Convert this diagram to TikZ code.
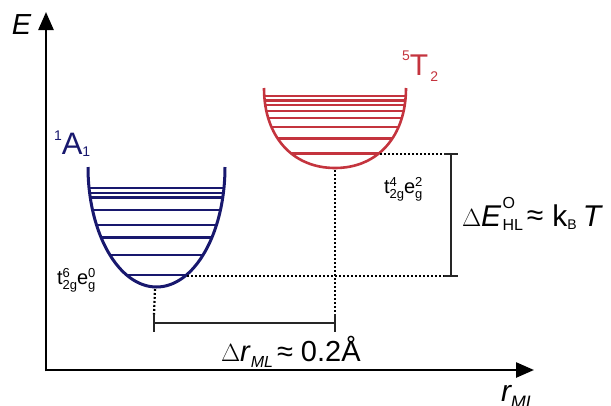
\documentclass[tikz,border=0pt]{standalone}
\usepackage{fontspec}
\setmainfont{Liberation Sans}
\usetikzlibrary{arrows.meta}
\definecolor{navy}{RGB}{24,24,110}
\definecolor{crim}{RGB}{196,52,62}
\newcommand\fs[1]{\fontsize{#1}{#1}\selectfont}
\newcommand\ssc[2]{\raisebox{#1}{\fs{14}#2}}
\newcommand\supsubx[4]{\makebox[0pt][l]{\raisebox{#1}{\fs{13}#3}}\raisebox{#2}{\fs{13}#4}}
\tikzset{
  axis/.style={line width=2.5pt,-{Triangle[length=18pt,width=15pt]}},
  dots/.style={line width=2.2pt,dash pattern=on 1.8pt off 2.2pt},
  bar/.style={line width=2.5pt,black!85},
  bluewell/.style={navy,line width=3pt},
  bluelev/.style={navy,line width=2.7pt},
  redwell/.style={crim,line width=2.6pt},
  redlev/.style={crim,line width=2.2pt},
  lab/.style={inner sep=0pt,outer sep=0pt,anchor=base west}
}
\begin{document}
\begin{tikzpicture}[x=1pt,y=-1pt]
\useasboundingbox (0,0) rectangle (611,405);
% axes
\coordinate (O) at (46,370);
\coordinate (Etip) at (46,12);
\coordinate (Rtip) at (534,370);
\draw[axis] (46,371.25) -- (Etip);
\draw[axis] (44.75,370) -- (Rtip);
\node[lab,font=\fs{29}\itshape] (Elab) at (12,34) {E};
\node[lab,font=\fs{30}\itshape] (rlab) at (501,401) {r\raisebox{-7pt}{\fs{18}ML}};
% blue well
\def\bluepath{(88,167) .. controls (88,233.3) and (118.7,287) .. (156.5,287) .. controls (194.3,287) and (225,233.3) .. (225,167)}
\begin{scope}
\clip \bluepath -- cycle;
\foreach \y in {188,193,197.5,210,225,237.5,255,275}
  \draw[bluelev] (80,\y) -- (235,\y);
\end{scope}
\draw[bluewell] \bluepath;
% red well
\def\redpath{(264,88) .. controls (264,136) and (292,168) .. (335,168) .. controls (378,168) and (406,136) .. (406,88)}
\begin{scope}
\clip \redpath -- cycle;
\foreach \y in {96,100.5,105,111,118,127,138.5,153.5}
  \draw[redlev] (255,\y) -- (415,\y);
\end{scope}
\draw[redwell] \redpath;
% labels of states
\node[lab,navy,font=\fs{31}] (A1) at (54,154) {\ssc{14pt}{1}A\ssc{-2pt}{1}};
\node[lab,crim,font=\fs{30}] (T2) at (402,75) {\ssc{15pt}{5}T\ssc{-6pt}{\,2}};
\node[lab,font=\fs{20}] (hs) at (384,193) {t\supsubx{6.5pt}{-5pt}{4}{2g}e\supsubx{6.5pt}{-5pt}{2}{g}};
\node[lab,font=\fs{20}] (ls) at (57,284) {t\supsubx{6.5pt}{-5pt}{6}{2g}e\supsubx{6.5pt}{-5pt}{0}{g}};
% energy gap
\coordinate (hsl) at (380,154);
\coordinate (lsl) at (187,276);
\coordinate (bt) at (451,154);
\coordinate (bb) at (451,276);
\draw[dots] (hsl) -- (446,154);
\draw[dots] (lsl) -- (446,276);
\draw[bar] (bt) -- (bb);
\draw[bar] (444,154) -- (458,154);
\draw[bar] (444,276) -- (458,276);
\node[lab,font=\fs{30}] (dE) at (462,226) {$\Delta$\textit{E}\hspace{1pt}\supsubx{18pt}{-4pt}{\fs{16}O}{\fs{16}HL}\hspace{4pt}\raisebox{1pt}{≈}\hspace{9pt}k\raisebox{-3pt}{\fs{14}B}\hspace{6pt}\textit{T}};
% distance
\coordinate (rb) at (335,170);
\coordinate (bb2) at (155,289);
\coordinate (lb) at (154,323);
\coordinate (rr) at (335,323);
\draw[dots] (rb) -- (335,315);
\draw[dots] (bb2) -- (154,315);
\draw[bar] (lb) -- (rr);
\draw[bar] (154,314) -- (154,332);
\draw[bar] (335,314) -- (335,332);
\node[lab,font=\fs{29}] (dr) at (221,361) {$\Delta$\textit{r}\raisebox{-6pt}{\fs{16}\itshape ML}\hspace{4pt}≈\hspace{8pt}0.2Å};
\end{tikzpicture}
\end{document}
